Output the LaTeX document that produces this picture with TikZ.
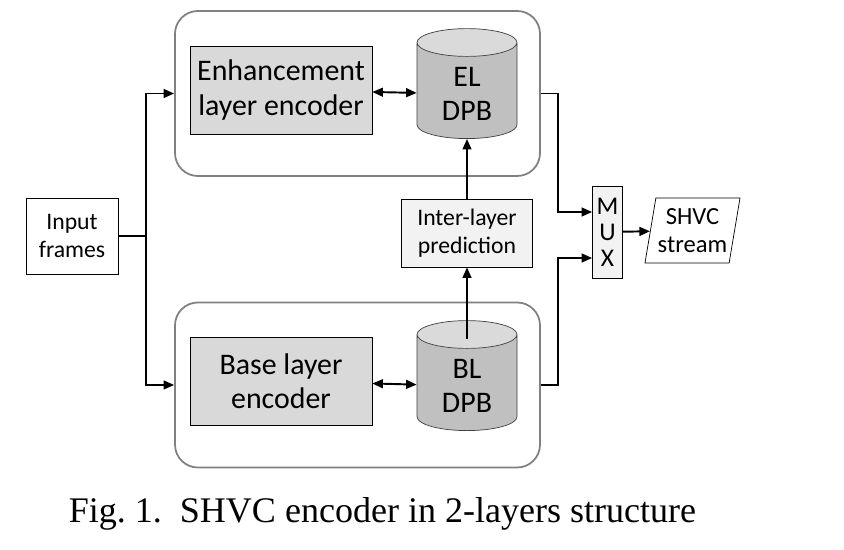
\documentclass[tikz,border=0pt]{standalone}
\usepackage{fontspec}
\setmainfont{Carlito}
\newfontfamily\captionfont{Liberation Serif}
\usetikzlibrary{shapes.geometric,arrows.meta}
\definecolor{EncGray}{HTML}{D9D9D9}
\definecolor{DPBGray}{HTML}{C0C0C0}
\definecolor{DPBTop}{HTML}{DADADA}
\definecolor{PaleGray}{HTML}{F2F2F2}
\definecolor{FrameGray}{HTML}{808080}
\tikzset{
  layerframe/.style={draw=FrameGray, line width=1pt, rounded corners=13pt, minimum width=7.3cm, minimum height=3.3cm},
  encbox/.style={draw, fill=EncGray, minimum width=3.64cm, minimum height=1.76cm, align=center, font=\fontsize{17}{19.5}\selectfont},
  dpb/.style={draw=black!75, shape=cylinder, shape border rotate=90, aspect=0.45, cylinder uses custom fill, cylinder body fill=DPBGray, cylinder end fill=DPBTop, minimum width=2.0cm, minimum height=2.2cm, align=center, font=\fontsize{17}{19.5}\selectfont},
  smallbox/.style={draw, align=center, font=\fontsize{13.5}{16}\selectfont},
  arr/.style={line width=1.1pt, -{Triangle[length=6pt,width=5pt]}},
  darr/.style={line width=1.1pt, {Triangle[length=6pt,width=5pt]}-{Triangle[length=6pt,width=5pt]}},
  wire/.style={line width=1.1pt}
}

\begin{document}
\begin{tikzpicture}
  \useasboundingbox (0,0) rectangle (16.88,11);

  \node[layerframe] (eltop) at (7.15,9.13) {};
  \node[layerframe] (blbot) at (7.15,3.30) {};

  \node[encbox] (elenc) at (5.62,9.20) {Enhancement\\layer encoder};
  \node[dpb] (eldpb) at (9.34,9.12) {EL\\DPB};
  \node[encbox] (blenc) at (5.62,3.38) {Base layer\\encoder};
  \node[dpb] (bldpb) at (9.34,3.28) {BL\\DPB};

  \node[smallbox, fill=PaleGray, minimum width=2.62cm, minimum height=1.36cm] (ilp) at (9.34,6.34) {Inter-layer\\prediction};
  \node[smallbox, fill=white, minimum width=1.84cm, minimum height=1.52cm] (input) at (1.44,6.28) {Input\\frames};
  \node[smallbox, fill=PaleGray, minimum width=0.6cm, minimum height=1.84cm, inner sep=1pt, font=\fontsize{14.5}{14.8}\selectfont] (mux) at (12.15,6.36) {M\\U\\X};
  \node[smallbox, shape=trapezium, trapezium left angle=79, trapezium right angle=101, trapezium stretches body, fill=white, minimum width=1.9cm, minimum height=1.3cm, inner xsep=1pt, font=\fontsize{14}{16}\selectfont] (stream) at (13.85,6.39) {SHVC\\stream};

  \draw[darr] (elenc) -- (eldpb);
  \draw[darr] (blenc) -- (bldpb);

  \coordinate (blcap) at (9.34,4.22);
  \draw[arr] (blcap) -- (ilp.south);
  \draw[arr] (ilp.north) -- (eldpb.bottom);

  \coordinate (split) at (2.92,6.28);
  \draw[wire] (input.east) -- (split);
  \draw[arr] (split) |- (eltop.west);
  \draw[arr] (split) |- (blbot.west);

  \coordinate (eljoin) at (11.16,6.76);
  \coordinate (bljoin) at (11.16,5.84);
  \draw[arr] (eltop.east) -| (eljoin) -- (eljoin -| mux.west);
  \draw[arr] (blbot.east) -| (bljoin) -- (bljoin -| mux.west);
  \draw[arr] (mux) -- (stream);

  \node[font=\captionfont\fontsize{20.5}{24}\selectfont] (caption) at (7.65,0.72) {Fig.~1.\enspace SHVC encoder in 2-layers structure};
\end{tikzpicture}
\end{document}
